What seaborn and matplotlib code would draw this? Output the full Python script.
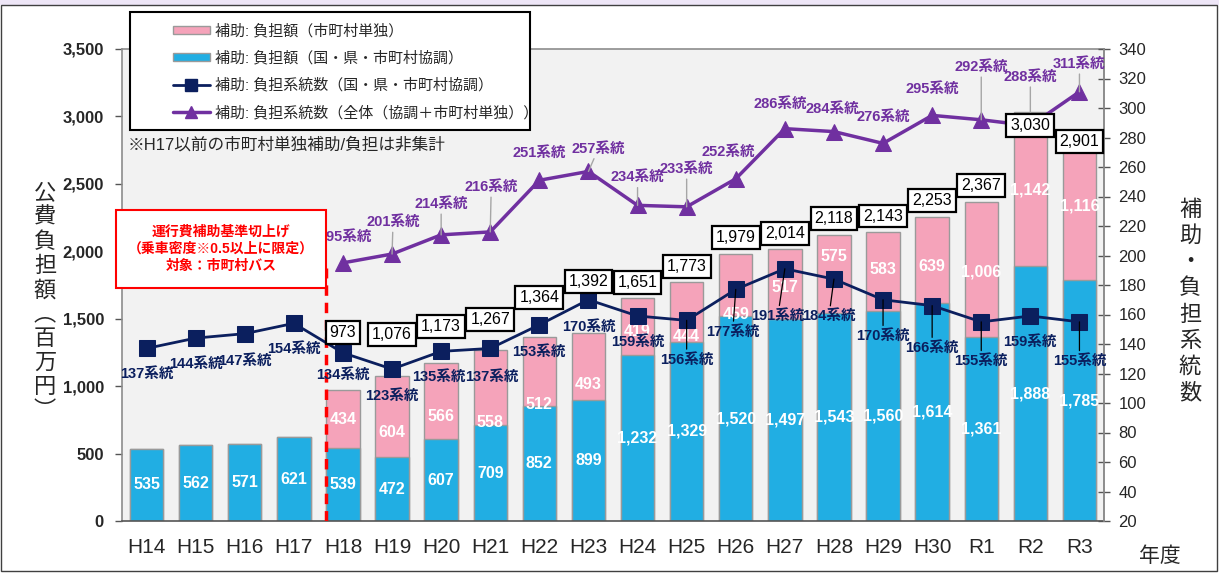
import numpy as np
import pandas as pd
import matplotlib
matplotlib.use("Agg")
import matplotlib.pyplot as plt
import seaborn as sns
from matplotlib.patches import Rectangle, Patch
from matplotlib.lines import Line2D

# ---------------- data ----------------
years = ["H14", "H15", "H16", "H17", "H18", "H19", "H20", "H21", "H22", "H23",
         "H24", "H25", "H26", "H27", "H28", "H29", "H30", "R1", "R2", "R3"]
kyocho_amount = [535, 562, 571, 621, 539, 472, 607, 709, 852, 899,
                 1232, 1329, 1520, 1497, 1543, 1560, 1614, 1361, 1888, 1785]
tandoku_amount = [np.nan, np.nan, np.nan, np.nan, 434, 604, 566, 558, 512, 493,
                  419, 444, 459, 517, 575, 583, 639, 1006, 1142, 1116]
kyocho_routes = [137, 144, 147, 154, 134, 123, 135, 137, 153, 170,
                 159, 156, 177, 191, 184, 170, 166, 155, 159, 155]
all_routes_years = years[4:]
all_routes = [195, 201, 214, 216, 251, 257, 234, 233, 252, 286, 284, 276, 295, 292, 288, 311]
left_ticks = [0, 500, 1000, 1500, 2000, 2500, 3000, 3500]
right_ticks = list(range(20, 341, 20))

legend_labels = ["補助: 負担額（市町村単独）",
                 "補助: 負担額（国・県・市町村協調）",
                 "補助: 負担系統数（国・県・市町村協調）",
                 "補助: 負担系統数（全体（協調＋市町村単独））"]
note_text = "※H17以前の市町村単独補助/負担は非集計"
box_text = "運行費補助基準切上げ\n（乗車密度※0.5以上に限定）\n対象：市町村バス"
left_label = "公費負担額(百万円)"
right_label = "補助・負担系統数"
x_label = "年度"
suffix = "系統"

# label placement tweaks (pixels)
total_dy = [57, 41, 36, 31, 40, 52, 16, 15, 17, 16, 17, 16, 17, 16, -13, -12]
pink_dy = [0, 16, 16, 35, 33, 18, 5, 25, 29, 3, -18, -2, 6, 2, 1, 1]
navy_dy = [25, 26, 27, 26, 22, 27, 26, 28, 27, 27, 26, 39, 42, 47, 37, 36, 42, 39, 26, 39]
navy_dx = [0, 0, 0, 0, 0, 0, -2, 2, 0, 0, 0, 0, -3, -7, -5, 0, 0, 0, 0, 0]
purple_dy = [26, 32, 31, 45, 27, 23, 28, 38, 27, 25, 23, 27, 27, 53, 49, 28]
purple_dx = [2, 1, 0, 1, 0, 10, 0, 0, -7, -5, -2, 0, 0, 0, 0, 0]

# ---------------- style ----------------
PINK = "#F5A3BA"
BLUE = "#21AEE3"
NAVY = "#0B1F5E"
PURPLE = "#7030A0"
EDGE = "#9a9a9a"

sns.set_style("white")
plt.rcParams["font.family"] = ["Liberation Sans", "Noto Sans CJK JP"]

W, H = 1219, 574
def fx(px):
    return px / W
def fy(py):
    return 1 - py / H

fig = plt.figure(figsize=(W / 100, H / 100), dpi=100)
fig.patch.set_facecolor("white")
ax = fig.add_axes([fx(122), fy(521), fx(1104) - fx(122), fy(49) - fy(521)])
ax.set_facecolor("#F2F2F2")

df = pd.DataFrame({"year": years, "kyocho": kyocho_amount, "tandoku": tandoku_amount})
df["total"] = df["kyocho"] + df["tandoku"].fillna(0)

bar_w = 0.68
sns.barplot(data=df, x="year", y="total", ax=ax, color=PINK, width=bar_w,
            edgecolor=EDGE, linewidth=1, saturation=1, errorbar=None, zorder=2)
sns.barplot(data=df, x="year", y="kyocho", ax=ax, color=BLUE, width=bar_w,
            edgecolor=EDGE, linewidth=1, saturation=1, errorbar=None, zorder=2)

ax.set_xlim(-0.5, len(years) - 0.5)
ax.set_ylim(left_ticks[0], left_ticks[-1])
ax.set_yticks(left_ticks)
ax.set_yticklabels([f"{t:,}" for t in left_ticks], fontsize=12, fontweight="bold")
ax.set_xticks(range(len(years)))
ax.set_xticklabels(years, fontsize=15)
ax.set_xticks(np.arange(0.5, len(years) - 0.5, 1), minor=True)
ax.tick_params(axis="x", which="major", length=0, pad=12)
ax.tick_params(axis="x", which="minor", direction="in", length=5, width=1, color="#555555")
ax.tick_params(axis="y", which="major", direction="out", length=5, width=1, color="#555555", pad=8, left=True)
ax.set_xlabel("")
ax.set_ylabel("")
for s in ax.spines.values():
    s.set_color("#8c8c8c")
    s.set_linewidth(1.2)
ax.spines["bottom"].set_color("#555555")

# value labels in bars
for i, v in enumerate(kyocho_amount):
    ax.annotate(f"{v:,}", (i, v / 2), ha="center", va="center", color="white",
                fontsize=11.5, fontweight="bold", zorder=5)
j = 0
for i, v in enumerate(tandoku_amount):
    if np.isnan(v):
        continue
    ax.annotate(f"{int(v):,}", (i, kyocho_amount[i] + v / 2), xytext=(0, -pink_dy[j]),
                textcoords="offset pixels", ha="center", va="center", color="white",
                fontsize=11.5, fontweight="bold", zorder=5)
    j += 1

# red dashed boundary
split_x = years.index("H18") - bar_w / 2
ax.axvline(split_x, ymin=0, ymax=0.535, color="#FF0000", lw=2.5, ls=(0, (3, 2)), zorder=4)

# ---------------- right axis ----------------
ax2 = ax.twinx()
idx = np.arange(len(years))
sns.lineplot(x=idx, y=kyocho_routes, ax=ax2, color=NAVY, lw=2, marker="s",
             markersize=11, markeredgecolor=NAVY, zorder=5)
p_idx = np.array([years.index(y) for y in all_routes_years])
sns.lineplot(x=p_idx, y=all_routes, ax=ax2, color=PURPLE, lw=2.5, marker="^",
             markersize=12, markeredgecolor=PURPLE, zorder=5)
ax2.set_ylim(right_ticks[0], right_ticks[-1])
ax2.set_yticks(right_ticks)
ax2.set_yticklabels([str(t) for t in right_ticks], fontsize=12)
ax2.tick_params(axis="y", direction="inout", length=9, width=1, color="#555555", pad=6)
ax2.set_xlim(-0.5, len(years) - 0.5)
ax2.set_ylabel("")
for s in ax2.spines.values():
    s.set_visible(False)
ax2.spines["right"].set_visible(True)
ax2.spines["right"].set_color("#8c8c8c")
ax2.spines["right"].set_linewidth(1.2)

# navy labels
for i, v in enumerate(kyocho_routes):
    ap = dict(arrowstyle="-", color="black", lw=0.9, shrinkA=0, shrinkB=0) if navy_dy[i] > 30 else None
    ax2.annotate(f"{v}{suffix}", xy=(i, v), xytext=(navy_dx[i], -navy_dy[i]),
                 textcoords="offset pixels", ha="center", va="center", color=NAVY,
                 fontsize=10.5, fontweight="bold", arrowprops=ap, zorder=6)

# purple labels
for k, (i, v) in enumerate(zip(p_idx, all_routes)):
    lead = purple_dy[k] >= 28 or abs(purple_dx[k]) >= 8
    ap = dict(arrowstyle="-", color="#a6a6a6", lw=1, shrinkA=0, shrinkB=0) if lead else None
    ax2.annotate(f"{v}{suffix}", xy=(i, v), xytext=(purple_dx[k], purple_dy[k]),
                 textcoords="offset pixels", ha="center", va="center", color=PURPLE,
                 fontsize=10.5, fontweight="bold", arrowprops=ap, zorder=6)

# total boxes
totals = df["total"].tolist()
j = 0
for i, t in enumerate(totals):
    if np.isnan(tandoku_amount[i]):
        continue
    ax2.annotate(f"{int(t):,}", xy=(i, t), xycoords=ax.transData, xytext=(0, total_dy[j]),
                 textcoords="offset pixels", ha="center", va="center", fontsize=11.5,
                 color="black", zorder=9,
                 bbox=dict(boxstyle="square,pad=0.25", fc="white", ec="black", lw=1.6))
    j += 1

# ---------------- figure decorations ----------------
fig.add_artist(Rectangle((0, fy(5)), 1, 5 / H, transform=fig.transFigure,
                         fc="#EEE6F7", ec="none", zorder=0))
fig.add_artist(Rectangle((fx(1), fy(571)), fx(1217) - fx(1), fy(5) - fy(571),
                         transform=fig.transFigure, fill=False, ec="#404040", lw=1, zorder=0))

# legend
fig.add_artist(Rectangle((fx(130), fy(130)), fx(530) - fx(130), fy(12) - fy(130),
                         transform=fig.transFigure, fc="white", ec="black", lw=1.5, zorder=10))
handles = [Patch(facecolor=PINK, edgecolor=EDGE),
           Patch(facecolor=BLUE, edgecolor=EDGE),
           Line2D([], [], color=NAVY, marker="s", markersize=8, lw=2),
           Line2D([], [], color=PURPLE, marker="^", markersize=8, lw=2.5)]
leg = fig.legend(handles, legend_labels, loc="upper left", bbox_to_anchor=(fx(165), fy(16)),
                 frameon=False, fontsize=10.8, handlelength=2.5, handleheight=0.5,
                 handletextpad=0.35, labelspacing=0.85, borderpad=0)
leg.set_zorder(11)

fig.text(fx(128), fy(145), note_text, ha="left", va="center", fontsize=12, zorder=11)

# annotation box
fig.add_artist(Rectangle((fx(116), fy(288)), fx(326) - fx(116), fy(210) - fy(288),
                         transform=fig.transFigure, fc="white", ec="#FF0000", lw=1.5, zorder=12))
fig.text(fx(221), fy(249), box_text, ha="center", va="center", color="#FF0000",
         fontsize=10, fontweight="bold", linespacing=1.3, zorder=13)

# axis titles
fig.text(fx(45), fy(303), "\n".join(left_label.replace("(", "︵").replace(")", "︶")),
         ha="center", va="center", fontsize=16, linespacing=1.2)
fig.text(fx(1190), fy(302), "\n".join(right_label), ha="center", va="center",
         fontsize=16, linespacing=1.32)
fig.text(fx(1160), fy(556), x_label, ha="center", va="center", fontsize=15)

fig.savefig("out.png", dpi=100)
